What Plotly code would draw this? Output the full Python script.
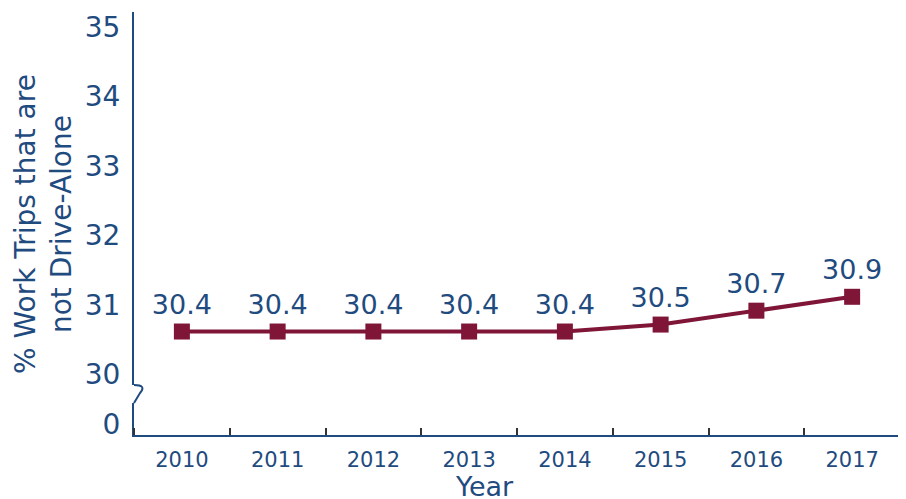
import plotly.graph_objects as go

years = ["2010", "2011", "2012", "2013", "2014", "2015", "2016", "2017"]
share_not_drive_alone = [30.4, 30.4, 30.4, 30.4, 30.4, 30.5, 30.7, 30.9]
y_ticks = [30, 31, 32, 33, 34, 35]

NAVY = "#1f4b7f"
MAROON = "#7f1537"
FONT = "DejaVu Sans"

# the page body has an 8px margin, so the figure sits 8px in from the window corner
OFF = 8
W, H = 906, 499
L, T = 134 - OFF, 12 - OFF
R = W - (900 - OFF)
B = H - (435 - OFF)
plot_w = W - L - R
plot_h = H - T - B


def py(pix):
    # window pixel row -> paper y
    return (H - B - (pix - OFF)) / plot_h


def px(pix):
    return (pix - OFF - L) / plot_w


fig = go.Figure()
fig.add_trace(go.Scatter(
    x=years, y=share_not_drive_alone, mode="lines+markers+text",
    text=[f"{v:.1f}" for v in share_not_drive_alone],
    textposition="top center",
    textfont=dict(size=27, color=NAVY, family=FONT),
    line=dict(color=MAROON, width=4),
    marker=dict(symbol="square", size=16, color=MAROON),
    cliponaxis=False, showlegend=False,
))
# empty trace so the lower (zero) axis segment gets drawn
fig.add_trace(go.Scatter(x=years, y=[None] * len(years), yaxis="y2",
                         showlegend=False, hoverinfo="skip"))

fig.update_layout(
    width=W, height=H,
    margin=dict(l=L, r=R, t=T, b=B, autoexpand=False),
    plot_bgcolor="white", paper_bgcolor="white",
    font=dict(family=FONT, color=NAVY),
    xaxis=dict(
        type="category", range=[-0.5, 7.5], anchor="y2", automargin=False,
        tickson="boundaries", ticks="inside", ticklen=7, tickwidth=2, tickcolor="#333",
        showline=True, linecolor=NAVY, linewidth=2, showgrid=False,
        tickfont=dict(size=21, color=NAVY), ticklabelstandoff=5,
    ),
    yaxis=dict(
        domain=[py(385), 1], range=[29.63, 35.0], automargin=False,
        tickvals=y_ticks, ticks="", showgrid=False, zeroline=False,
        showline=True, linecolor=NAVY, linewidth=2,
        tickfont=dict(size=28, color=NAVY), ticklabelshift=15, ticklabelstandoff=6,
        ticklabeloverflow="allow",
    ),
    yaxis2=dict(
        domain=[0, py(403)], range=[-0.35, 0.65], anchor="x", automargin=False,
        tickvals=[0], ticks="", showgrid=False, zeroline=False,
        showline=True, linecolor=NAVY, linewidth=2,
        tickfont=dict(size=28, color=NAVY), ticklabelstandoff=6,
        ticklabeloverflow="allow",
    ),
)

# axis break squiggle between the two y ranges
fig.add_shape(
    type="path", xref="paper", yref="paper",
    path=(f"M {px(134)},{py(385)} Q {px(147)},{py(385)} {px(140)},{py(393)} "
          f"L {px(134)},{py(403)}"),
    line=dict(color=NAVY, width=2),
)
# end ticks at the left and right ends of the year axis
for edge in (134, 900):
    fig.add_shape(type="line", xref="paper", yref="paper",
                  x0=px(edge), x1=px(edge), y0=0, y1=py(428),
                  line=dict(color="#333", width=2))

fig.add_annotation(
    text="% Work Trips that are<br>not Drive-Alone", textangle=-90,
    xref="paper", yref="paper", x=px(43), y=py(224),
    xanchor="center", yanchor="middle",
    showarrow=False, font=dict(size=28, color=NAVY),
)
fig.add_annotation(
    text="Year", xref="paper", yref="paper", x=px(484), y=py(486),
    xanchor="center", yanchor="middle",
    showarrow=False, font=dict(size=27, color=NAVY),
)

fig.write_html("out.html")
